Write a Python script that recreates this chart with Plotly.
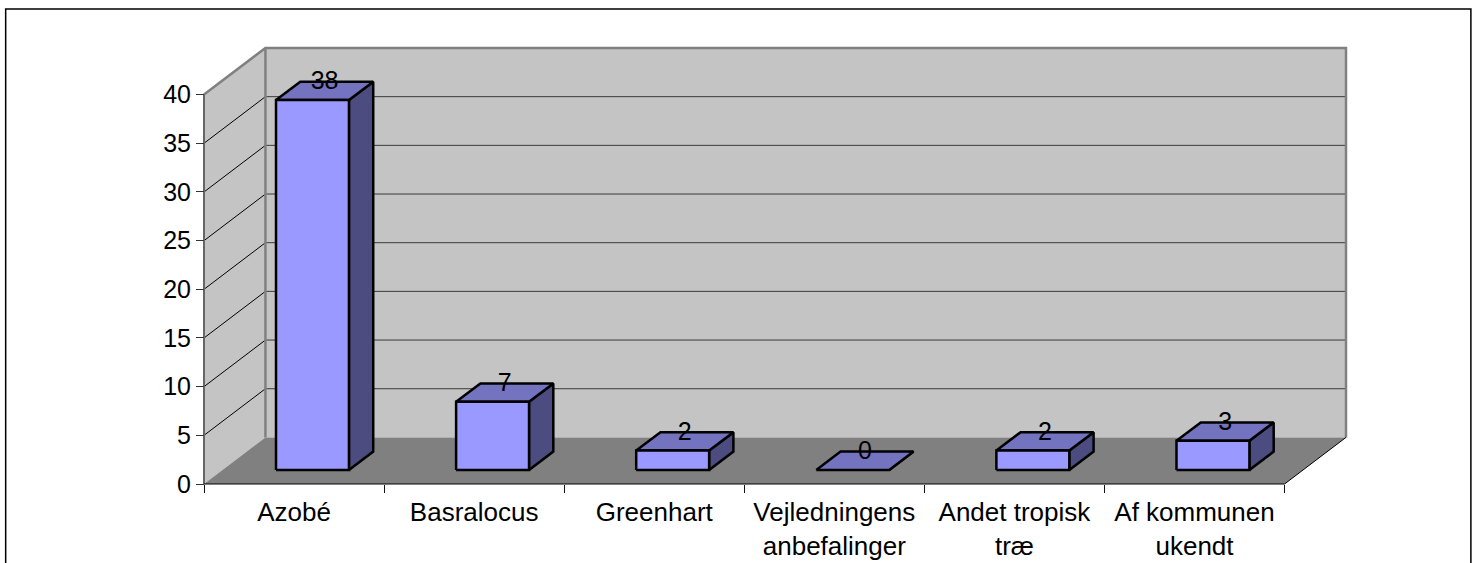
import plotly.graph_objects as go

# --- data ---
categories = ["Azobé", "Basralocus", "Greenhart", "Vejledningens<br>anbefalinger",
              "Andet tropisk<br>træ", "Af kommunen<br>ukendt"]
values = [38, 7, 2, 0, 2, 3]
y_ticks = [0, 5, 10, 15, 20, 25, 30, 35, 40]

# --- layout geometry (pixels) ---
W, H = 1479, 563
X0_PX, X6_PX = 203.5, 1285.0
Y0_PX, Y40_PX = 484.3, 95.0
DX_PX, DY_PX = 61.5, 46.6
PAD = 4
LABEL_DROP_PX = 1.5

n = len(categories)
ymax = y_ticks[-1]
px_x = (X6_PX - X0_PX) / n
px_y = (Y0_PX - Y40_PX) / ymax
dx, dy = DX_PX / px_x, DY_PX / px_y
BAR_W = 0.405
D1, D2 = 0.300, 0.695

pad_x, pad_y = PAD / px_x, PAD / px_y
x_range = [-pad_x, n + dx + pad_x]
y_range = [-pad_y, ymax + dy + pad_y]
plot_w = (x_range[1] - x_range[0]) * px_x
plot_h = (y_range[1] - y_range[0]) * px_y

WALL, FLOOR = "#C4C4C4", "#808080"
FRONT, TOP, SIDE = "#9999FF", "#7373BF", "#4C4C80"
FONT = dict(family="Liberation Sans, Arial, sans-serif", size=26, color="black")
NUM_FONT = dict(family="Liberation Sans, Arial, sans-serif", size=25, color="black")

fig = go.Figure()


def poly(xs, ys, fill, line="rgba(0,0,0,0)", width=0):
    fig.add_trace(go.Scatter(
        x=list(xs) + [xs[0]], y=list(ys) + [ys[0]], mode="lines", fill="toself",
        fillcolor=fill, line=dict(color=line, width=width), hoverinfo="skip",
        showlegend=False))


def seg(xs, ys, color, width):
    fig.add_trace(go.Scatter(x=xs, y=ys, mode="lines",
                             line=dict(color=color, width=width),
                             hoverinfo="skip", showlegend=False))


# walls and floor
poly([dx, n + dx, n + dx, dx], [dy, dy, ymax + dy, ymax + dy], WALL)
poly([0, dx, dx, 0], [0, dy, ymax + dy, ymax], WALL)
poly([0, n, n + dx, dx], [0, 0, dy, dy], FLOOR)

# gridlines
for v in y_ticks[1:-1]:
    seg([0, dx], [v, v + dy], "#000000", 1)
    seg([dx, n + dx], [v + dy, v + dy], "#3A3A3A", 1)

# wall borders
seg([0, dx, n + dx, n + dx], [ymax, ymax + dy, ymax + dy, dy], "#808080", 2.5)
seg([dx, dx], [dy, ymax + dy], "#808080", 2.5)
seg([n, n + dx], [0, dy], "#000000", 1)
seg([0, 0], [0, ymax], "#666666", 2)
seg([0, n], [0, 0], "#000000", 1)

# bars
label_x, label_y = [], []
for i, v in enumerate(values):
    c = i + 0.5
    xl = c - BAR_W / 2
    xr = c + BAR_W / 2
    b1, b2 = D1 * dy, D2 * dy
    o1, o2 = D1 * dx, D2 * dx
    poly([xr + o1, xr + o2, xr + o2, xr + o1], [b1, b2, v + b2, v + b1], SIDE, "black", 2.5)
    poly([xl + o1, xr + o1, xr + o2, xl + o2], [v + b1, v + b1, v + b2, v + b2], TOP, "black", 2.5)
    if v > 0:
        poly([xl + o1, xr + o1, xr + o1, xl + o1], [b1, b1, v + b1, v + b1], FRONT, "black", 2.5)
    label_x.append(c + (o1 + o2) / 2)
    label_y.append(v + b2 - LABEL_DROP_PX / px_y)

fig.add_trace(go.Scatter(x=label_x, y=label_y, mode="text", text=[str(v) for v in values],
                         textposition="middle center", textfont=NUM_FONT, hoverinfo="skip",
                         showlegend=False, cliponaxis=False))

fig.update_layout(
    width=W, height=H, autosize=False,
    paper_bgcolor="white", plot_bgcolor="white",
    margin=dict(l=X0_PX - PAD, t=Y40_PX - DY_PX - PAD, pad=0,
                r=W - (X0_PX - PAD) - plot_w,
                b=H - (Y40_PX - DY_PX - PAD) - plot_h),
    xaxis=dict(range=x_range, anchor="free", position=PAD / plot_h, showgrid=False,
               zeroline=False, showline=False, automargin=False,
               tickmode="array", tickvals=[i + 0.5 for i in range(n)], ticktext=categories,
               ticks="", tickangle=0, tickfont=FONT, ticklabelstandoff=10,
               minor=dict(tickmode="array", tickvals=list(range(n + 1)), ticks="outside",
                          ticklen=8, tickwidth=1, tickcolor="#111111", showgrid=False)),
    yaxis=dict(range=y_range, anchor="free", position=PAD / plot_w, showgrid=False,
               zeroline=False, showline=False, automargin=False,
               tickmode="array", tickvals=y_ticks, ticks="outside", ticklen=8, tickwidth=1,
               tickcolor="#333333", tickfont=NUM_FONT),
    # outer chart frame (open at the bottom, runs past the window edge)
    shapes=[dict(type="path", xref="paper", yref="paper",
                 path="M {l},{b} L {l},{t} L {r},{t} L {r},{b}".format(
                     l=(5 - (X0_PX - PAD)) / plot_w,
                     r=(1471.5 - (X0_PX - PAD)) / plot_w,
                     t=1 + ((Y40_PX - DY_PX - PAD) - 9.5) / plot_h,
                     b=1 - (600 - (Y40_PX - DY_PX - PAD)) / plot_h),
                 line=dict(color="black", width=1.5))],
)

fig.write_html("out.html", config={"displayModeBar": False},
               post_script="document.body.style.margin='0';document.body.style.overflow='hidden';")
